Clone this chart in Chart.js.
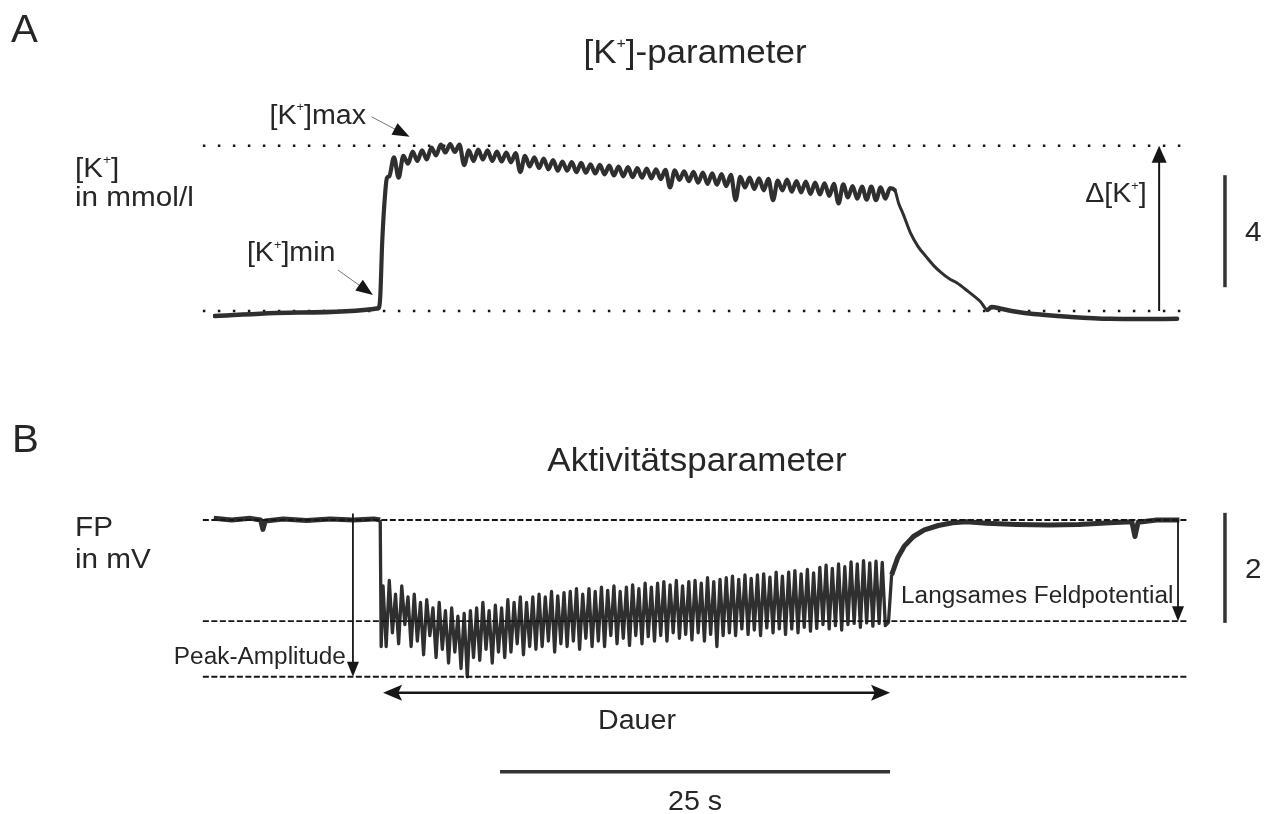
<!DOCTYPE html>
<html>
<head>
<meta charset="utf-8">
<script src="https://cdn.jsdelivr.net/npm/chart.js@4/dist/chart.umd.min.js"></script>
<style>
  body { margin: 0; background: #fff; }
  .panel { position: absolute; left: 0; width: 1271px; }
</style>
</head>
<body>
<div class="panel" style="top:0;height:380px"><canvas id="kChart" width="1271" height="380"></canvas></div>
<div class="panel" style="top:380px;height:434px"><canvas id="fpChart" width="1271" height="434"></canvas></div>
<script>
// ---- time base (s) ----
const T_MIN = 0;
const T_MAX = 62;
const K_DT = 0.3;   // sampling of the [K+] plateau
const FP_DT = 0.2;  // sampling of the field potential burst

// ---- A: [K+] in mmol/l ----
const kMin = 3.0;
const kMax = 8.9;
const kOnset = 10.7;
const kBefore = [[0.1, 2.82], [5.5, 2.95], [10.6, 3.1], [10.72, 3.5], [10.85, 5.5], [11.05, 7.3], [11.15, 7.75]];
const kPlateauStart = 11.3;
const kPlateau = [
  7.81, 8.49, 7.76, 8.54, 8.26, 8.69, 8.36, 8.74, 8.41, 8.84,
  8.56, 8.94, 8.66, 8.96, 8.68, 8.94, 8.21, 8.74, 8.36, 8.76,
  8.41, 8.74, 8.36, 8.69, 8.34, 8.66, 8.31, 8.64, 7.96, 8.54,
  8.16, 8.49, 8.11, 8.44, 8.06, 8.39, 8.01, 8.34, 8.01, 8.32,
  7.96, 8.29, 7.94, 8.24, 7.91, 8.22, 7.88, 8.19, 7.84, 8.16,
  7.81, 8.14, 7.78, 8.1, 7.76, 8.09, 7.74, 8.06, 7.71, 8.04,
  7.41, 8.02, 7.68, 7.99, 7.64, 7.97, 7.58, 7.94, 7.54, 7.92,
  7.51, 7.89, 7.46, 7.86, 6.96, 7.79, 7.41, 7.76, 7.36, 7.74,
  7.31, 7.72, 6.96, 7.66, 7.31, 7.69, 7.26, 7.64, 7.24, 7.62,
  7.18, 7.59, 7.16, 7.56, 7.11, 7.54, 6.84, 7.52, 7.06, 7.46,
  7.01, 7.44, 6.98, 7.44, 6.96, 7.42, 7.01, 7.39, 7.32
];
const kAfter = [
  [43.95, 6.85], [44.25, 6.45], [44.7, 5.8], [45.2, 5.3], [45.7, 4.95], [46.2, 4.62],
  [46.7, 4.36], [47.2, 4.15], [47.7, 4.0], [48.4, 3.7], [49.2, 3.33], [49.65, 3.04],
  [49.9, 3.14], [50.6, 3.07], [51.5, 2.97], [52.6, 2.89], [55.0, 2.79], [57.5, 2.72],
  [59.5, 2.71], [61.8, 2.72]
];
const kScaleBar = [3.85, 7.85]; // 4 mmol/l

// ---- B: field potential in mV ----
const fpSlow = -1.84;
const fpPeak = -2.85;
const burstStart = 10.9;
const burstEnd = 43.4;
const fpBefore = [
  [0.05, 0.03], [1.2, 0.0], [2.4, 0.03], [3.05, 0.0], [3.2, -0.17], [3.35, -0.02],
  [4.5, 0.02], [6.0, -0.01], [7.5, 0.02], [9.0, 0.0], [10.3, 0.02], [10.72, 0.0], [10.78, -2.3]
];
// spike tops and troughs during the burst
const fpBurst = [
  -1.2, -2.3, -1.1, -2.05, -1.35, -2.25, -1.2, -1.9, -1.4, -2.3,
  -1.35, -2.2, -1.5, -2.45, -1.45, -2.1, -1.6, -2.5, -1.5, -2.35,
  -1.65, -2.6, -1.6, -2.4, -1.75, -2.7, -1.7, -2.85, -1.65, -2.5,
  -1.6, -2.55, -1.5, -2.35, -1.65, -2.6, -1.55, -2.4, -1.6, -2.5,
  -1.45, -2.4, -1.5, -2.25, -1.4, -2.45, -1.5, -2.3, -1.4, -2.35,
  -1.35, -2.3, -1.4, -2.2, -1.3, -2.4, -1.38, -2.25, -1.32, -2.3,
  -1.3, -2.2, -1.25, -2.35, -1.35, -2.15, -1.25, -2.3, -1.3, -2.2,
  -1.22, -2.3, -1.28, -2.1, -1.2, -2.25, -1.3, -2.15, -1.22, -2.28,
  -1.18, -2.1, -1.25, -2.25, -1.15, -2.12, -1.22, -2.2, -1.15, -2.1,
  -1.12, -2.2, -1.18, -2.05, -1.1, -2.15, -1.2, -2.08, -1.12, -2.18,
  -1.1, -2.05, -1.15, -2.2, -1.05, -2.08, -1.12, -2.3, -1.08, -2.1,
  -1.05, -2.05, -1.02, -2.1, -1.08, -1.98, -1.0, -2.08, -1.06, -2.0,
  -1.0, -2.1, -0.98, -1.96, -1.04, -2.05, -0.95, -1.98, -1.02, -2.08,
  -0.95, -1.98, -0.92, -2.05, -0.98, -1.95, -0.9, -2.02, -0.96, -1.97,
  -0.86, -1.9, -0.82, -1.98, -0.88, -1.92, -0.8, -2.0, -0.85, -1.9,
  -0.76, -1.88, -0.8, -1.95, -0.74, -1.87, -0.78, -1.93, -0.75, -1.88,
  -0.77, -1.92, -1.86
];
const fpAfter = [
  [43.5, -1.0], [43.9, -0.68], [44.3, -0.48], [44.9, -0.3], [45.6, -0.18], [46.5, -0.1],
  [47.4, -0.05], [48.3, -0.03], [49.6, -0.06], [51.5, -0.08], [53.6, -0.09], [55.5, -0.08],
  [57.5, -0.05], [58.9, -0.03], [59.1, -0.3], [59.3, -0.04], [60.5, 0.0], [61.95, 0.0]
];
const fpScaleBar = [0.13, -1.87]; // 2 mV
const timeBar = 25; // s

// ---- drawing style ----
const FONT = "'Liberation Sans', Arial, sans-serif";
const STRETCH = 1.06;
const TEXT_COLOR = '#262626';
const INK = '#161616';
const TRACE = '#2f2f2f';
const LINE_T0 = -0.65;
const LINE_T1 = 62.4;

const pairs = (arr) => arr.map(([t, v]) => ({ x: t, y: v }));
const sampled = (arr, t0, dt) => arr.map((v, i) => ({ x: t0 + i * dt, y: v }));

const kPoints = [...pairs(kBefore), ...sampled(kPlateau, kPlateauStart, K_DT), ...pairs(kAfter)];
const fpPoints = [...pairs(fpBefore), ...sampled(fpBurst, burstStart, FP_DT), ...pairs(fpAfter)];

// text with an optional raised "+"
function label(ctx, parts, x, y, size, align = 'left') {
  const pieces = parts.map(p => typeof p === 'string'
    ? { text: p, font: `${size}px ${FONT}`, dy: 0 }
    : { text: p.sup, font: `${Math.round(size * 0.45)}px ${FONT}`, dy: -size * 0.46 });
  ctx.save();
  let w = 0;
  pieces.forEach(p => { ctx.font = p.font; p.w = ctx.measureText(p.text).width; w += p.w; });
  let cx = align === 'center' ? -w / 2 : align === 'right' ? -w : 0;
  ctx.translate(x, y);
  ctx.scale(STRETCH, 1);
  ctx.fillStyle = TEXT_COLOR;
  ctx.textAlign = 'left';
  ctx.textBaseline = 'alphabetic';
  pieces.forEach(p => { ctx.font = p.font; ctx.fillText(p.text, cx, p.dy); cx += p.w; });
  ctx.restore();
}

function hLine(ctx, x1, x2, y, dash, width) {
  ctx.save();
  ctx.strokeStyle = INK;
  ctx.lineWidth = width;
  ctx.setLineDash(dash);
  ctx.beginPath();
  ctx.moveTo(x1, y);
  ctx.lineTo(x2, y);
  ctx.stroke();
  ctx.restore();
}

function bar(ctx, x1, y1, x2, y2, width = 3.5) {
  ctx.save();
  ctx.strokeStyle = '#333';
  ctx.lineWidth = width;
  ctx.beginPath();
  ctx.moveTo(x1, y1);
  ctx.lineTo(x2, y2);
  ctx.stroke();
  ctx.restore();
}

function head(ctx, x, y, angle, len, half, notch) {
  ctx.save();
  ctx.fillStyle = INK;
  ctx.translate(x, y);
  ctx.rotate(angle);
  ctx.beginPath();
  ctx.moveTo(0, 0);
  ctx.lineTo(-len, half);
  ctx.lineTo(-len * (1 - notch), 0);
  ctx.lineTo(-len, -half);
  ctx.closePath();
  ctx.fill();
  ctx.restore();
}

function arrow(ctx, x1, y1, x2, y2, opt = {}) {
  const { width = 2, len = 16, half = 6.5, notch = 0, color = INK, both = false } = opt;
  const a = Math.atan2(y2 - y1, x2 - x1);
  ctx.save();
  ctx.strokeStyle = color;
  ctx.lineWidth = width;
  ctx.beginPath();
  ctx.moveTo(x1 + (both ? Math.cos(a) * len * 0.7 : 0), y1 + (both ? Math.sin(a) * len * 0.7 : 0));
  ctx.lineTo(x2 - Math.cos(a) * len * 0.7, y2 - Math.sin(a) * len * 0.7);
  ctx.stroke();
  ctx.restore();
  head(ctx, x2, y2, a, len, half, notch);
  if (both) head(ctx, x1, y1, a + Math.PI, len, half, notch);
}

const kOverlay = {
  id: 'kOverlay',
  beforeDatasetsDraw(chart) {
    const { ctx, scales: { x, y } } = chart;
    const dots = [2.5, 12.5];
    hLine(ctx, x.getPixelForValue(LINE_T0), x.getPixelForValue(LINE_T1), y.getPixelForValue(kMax), dots, 2.5);
    hLine(ctx, x.getPixelForValue(LINE_T0), x.getPixelForValue(LINE_T1), y.getPixelForValue(kMin), dots, 2.5);
  },
  afterDatasetsDraw(chart) {
    const { ctx, scales: { x, y } } = chart;
    label(ctx, ['A'], 11, 42, 38);
    label(ctx, ['[K', { sup: '+' }, ']-parameter'], 695, 63, 33, 'center');
    label(ctx, ['[K', { sup: '+' }, ']'], 75, 177, 28);
    label(ctx, ['in mmol/l'], 75, 206, 28);

    // [K+]max pointer
    const maxTipX = x.getPixelForValue(12.6), maxTipY = y.getPixelForValue(kMax) - 9;
    arrow(ctx, maxTipX - 38, maxTipY - 20, maxTipX, maxTipY, { width: 1, color: '#777', len: 17, half: 6.5 });
    label(ctx, ['[K', { sup: '+' }, ']max'], maxTipX - 140, maxTipY - 13, 27);

    // [K+]min pointer
    const minTipX = x.getPixelForValue(kOnset) - 7, minTipY = y.getPixelForValue(kMin) - 16;
    arrow(ctx, minTipX - 35, minTipY - 25, minTipX, minTipY, { width: 1, color: '#777', len: 17, half: 6.5 });
    label(ctx, ['[K', { sup: '+' }, ']min'], minTipX - 126, minTipY - 34, 27);

    // amplitude arrow
    const dx = x.getPixelForValue(60.65);
    arrow(ctx, dx, y.getPixelForValue(kMin), dx, y.getPixelForValue(kMax), { width: 2, len: 17, half: 7.5 });
    label(ctx, ['\u0394[K', { sup: '+' }, ']'], dx - 74, 202, 27);

    // scale bar
    const sx = x.getPixelForValue(64.87);
    const sy1 = y.getPixelForValue(kScaleBar[0]), sy2 = y.getPixelForValue(kScaleBar[1]);
    bar(ctx, sx, sy1, sx, sy2, 3.5);
    label(ctx, [String(Math.round(kScaleBar[1] - kScaleBar[0]))], sx + 20, (sy1 + sy2) / 2 + 10, 28);
  }
};

const fpOverlay = {
  id: 'fpOverlay',
  afterDatasetsDraw(chart) {
    const { ctx, scales: { x, y } } = chart;
    const dash = [6, 2.5];
    const lx1 = x.getPixelForValue(LINE_T0), lx2 = x.getPixelForValue(62.55);
    [0, fpSlow, fpPeak].forEach(v => hLine(ctx, lx1, lx2, y.getPixelForValue(v), dash, 1.8));

    label(ctx, ['B'], 12, 72, 38);
    label(ctx, ['Aktivitätsparameter'], 697, 91, 33, 'center');
    label(ctx, ['FP'], 75, 156, 28);
    label(ctx, ['in mV'], 75, 188, 28);

    // peak amplitude
    const px = x.getPixelForValue(8.97);
    arrow(ctx, px, y.getPixelForValue(0.12), px, y.getPixelForValue(fpPeak), { width: 1.8, len: 15, half: 6 });
    label(ctx, ['Peak-Amplitude'], px - 7, y.getPixelForValue(fpPeak) - 13, 23, 'right');

    // slow field potential
    const qx = x.getPixelForValue(61.86);
    arrow(ctx, qx, y.getPixelForValue(0), qx, y.getPixelForValue(fpSlow), { width: 1.8, len: 15, half: 6 });
    label(ctx, ['Langsames Feldpotential'], x.getPixelForValue(burstEnd) + 11, y.getPixelForValue(fpSlow) - 18, 23);

    // duration
    const dy = y.getPixelForValue(fpPeak) + 16;
    arrow(ctx, x.getPixelForValue(burstStart), dy, x.getPixelForValue(burstEnd), dy,
      { width: 2.4, len: 19, half: 8, notch: 0.2, both: true });
    label(ctx, ['Dauer'], 637, dy + 36, 27, 'center');

    // time scale
    const by = dy + 79;
    const bx1 = x.getPixelForValue(burstEnd - timeBar), bx2 = x.getPixelForValue(burstEnd);
    bar(ctx, bx1, by, bx2, by, 3.5);
    label(ctx, [`${timeBar} s`], (bx1 + bx2) / 2, by + 38, 27, 'center');

    // voltage scale
    const sx = x.getPixelForValue(64.87);
    const sy1 = y.getPixelForValue(fpScaleBar[0]), sy2 = y.getPixelForValue(fpScaleBar[1]);
    bar(ctx, sx, sy1, sx, sy2, 3.5);
    label(ctx, [String(Math.round(fpScaleBar[0] - fpScaleBar[1]))], sx + 20, (sy1 + sy2) / 2 + 10, 28);
  }
};

const hiddenAxes = (yMin, yMax) => ({
  x: { type: 'linear', min: T_MIN, max: T_MAX, display: false },
  y: { type: 'linear', min: yMin, max: yMax, display: false }
});

const baseOptions = {
  responsive: false,
  animation: false,
  events: [],
  plugins: { legend: { display: false }, tooltip: { enabled: false } },
  elements: { point: { radius: 0 } }
};

new Chart(document.getElementById('kChart'), {
  type: 'line',
  data: {
    datasets: [{
      label: '[K+]',
      data: kPoints,
      borderColor: TRACE,
      borderWidth: 4,
      cubicInterpolationMode: 'monotone',
      borderJoinStyle: 'round',
      borderCapStyle: 'round',
      segment: {
        borderWidth: c => c.p0.parsed.x >= 43.7 && c.p0.parsed.x < 49.6 ? 3 : c.p0.parsed.x < 10.6 || c.p0.parsed.x >= 49.6 ? 4.5 : 4.2
      }
    }]
  },
  options: {
    ...baseOptions,
    layout: { padding: { left: 213, right: 90.8, top: 103.8, bottom: 35.4 } },
    scales: hiddenAxes(1.8, 10.4)
  },
  plugins: [kOverlay]
});

new Chart(document.getElementById('fpChart'), {
  type: 'line',
  data: {
    datasets: [{
      label: 'FP',
      data: fpPoints,
      borderColor: TRACE,
      borderWidth: 3.3,
      tension: 0,
      borderJoinStyle: 'round',
      segment: {
        borderWidth: c => c.p0.parsed.x < 10.72 || c.p0.parsed.x >= 43.45 ? 5 : 3.3
      }
    }]
  },
  options: {
    ...baseOptions,
    layout: { padding: { left: 213, right: 90.8, top: 96, bottom: 118 } },
    scales: hiddenAxes(-3.2, 0.8)
  },
  plugins: [fpOverlay]
});
</script>
</body>
</html>
